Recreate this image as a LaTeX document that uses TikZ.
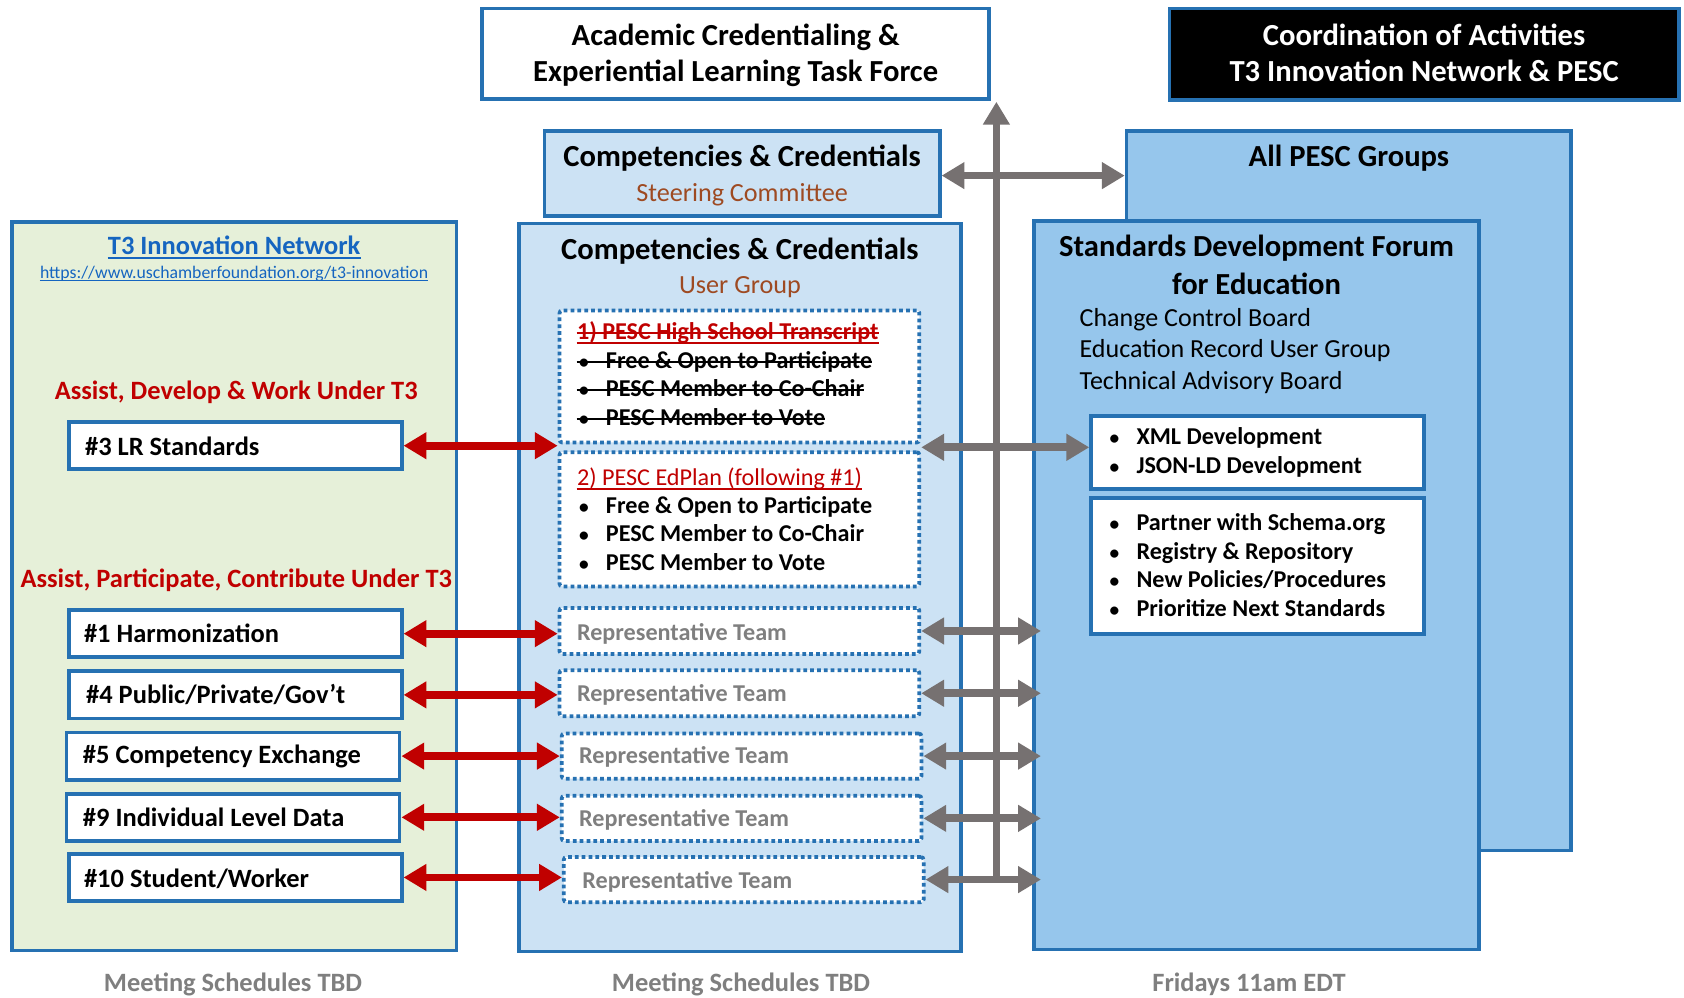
\documentclass[tikz,border=0pt]{standalone}
\usepackage{fontspec}
\setmainfont{Carlito}
\usetikzlibrary{arrows.meta,fit,calc}
\definecolor{bblue}{RGB}{38,113,178}
\definecolor{lblue}{RGB}{204,226,244}
\definecolor{mblue}{RGB}{150,198,236}
\definecolor{lgreen}{RGB}{230,240,217}
\definecolor{dred}{RGB}{192,0,0}
\definecolor{ubrown}{RGB}{158,74,34}
\definecolor{agray}{RGB}{118,113,113}
\definecolor{tgray}{RGB}{127,127,127}
\definecolor{lnk}{RGB}{21,101,192}
\newcommand\fH{\fontsize{22.8pt}{27pt}\selectfont}
\newcommand\fS{\fontsize{19.5pt}{23pt}\selectfont}
\newcommand\fI{\fontsize{19.7pt}{23pt}\selectfont}
\newcommand\fB{\fontsize{18pt}{21pt}\selectfont}
\newcommand\fL{\fontsize{19.4pt}{23pt}\selectfont}
\newcommand\fU{\fontsize{13.2pt}{16pt}\selectfont}
\tikzset{
  box/.style={draw=bblue, line width=2.8pt, inner sep=0pt, rectangle},
  dbox/.style={draw=bblue, fill=white, line width=2.8pt, dash pattern=on 2.8pt off 2.3pt, rounded corners=2pt, inner sep=0pt},
  txt/.style={inner sep=0pt, anchor=base},
  ltxt/.style={inner sep=0pt, anchor=base west},
  tipg/.tip={Triangle[length=17pt,width=19pt]},
  garr/.style={draw=agray, line width=5.8pt, tipg-tipg},
  gup/.style={draw=agray, line width=5.8pt, -tipg},
  rarr/.style={draw=dred, line width=5.8pt, tipg-tipg},
  strike/.style={line width=1.6pt}
}
\newcommand\bul[4]{\node[ltxt] (#1) at (#2,#3) {\fB\bfseries\makebox[20pt][l]{\scalebox{0.8}{\textbullet}}#4};}
\begin{document}
\begin{tikzpicture}[x=0.8pt,y=-0.8pt]
\fill[white] (0,0) rectangle (1568,929);
\useasboundingbox (0,0) rectangle (1568,929);

% ---------- big boxes ----------
\node[box, fill=white, fit={(449,8)(921,92)}] (acad) {};
\node[box, fill=black, fit={(1089,8)(1563,93)}] (coord) {};
\node[box, fill=lblue, fit={(507,122)(875,201)}] (steer) {};
\node[box, fill=mblue, fit={(1049,122)(1463,792)}] (allpesc) {};
\node[box, fill=mblue, fit={(963,206)(1377,884)}] (sdf) {};
\node[box, fill=lgreen, fit={(11,207)(425,885)}] (t3box) {};
\node[box, fill=lblue, fit={(483,208)(895,886)}] (ug) {};

% ---------- top texts ----------
\node[txt] (acadA) at (685,42) {\fH\bfseries Academic Credentialing \&};
\node[txt] (acadB) at (685,76) {\fH\bfseries Experiential Learning Task Force};
\node[txt, text=white] (coordA) at (1326,42) {\fH\bfseries Coordination of Activities};
\node[txt, text=white] (coordB) at (1326,76) {\fH\bfseries T3 Innovation Network \& PESC};
\node[txt] (steerA) at (691,155) {\fH\bfseries Competencies \& Credentials};
\node[txt, text=ubrown] (steerB) at (691,188) {\fS Steering Committee};
\node[txt] (allA) at (1256,155) {\fH\bfseries All PESC Groups};

% ---------- SDF ----------
\node[txt] (sdfA) at (1170,239) {\fH\bfseries Standards Development Forum};
\node[txt] (sdfB) at (1170,274) {\fH\bfseries for Education};
\node[ltxt] (sdf1) at (1005,304) {\fL Change Control Board};
\node[ltxt] (sdf2) at (1005,333) {\fL Education Record User Group};
\node[ltxt] (sdf3) at (1005,363) {\fL Technical Advisory Board};
\node[box, fill=white, fit={(1016,387)(1326,455)}] (xml) {};
\node[box, fill=white, fit={(1016,464)(1326,590)}] (part) {};
\bul{x1}{1033}{414}{XML Development}
\bul{x2}{1033}{441}{JSON-LD Development}
\bul{p1}{1033}{494}{Partner with Schema.org}
\bul{p2}{1033}{521}{Registry \& Repository}
\bul{p3}{1033}{547}{New Policies/Procedures}
\bul{p4}{1033}{574}{Prioritize Next Standards}

% ---------- T3 box ----------
\node[txt, text=lnk] (t3t) at (218,237) {\fI\bfseries T3 Innovation Network};
\draw[lnk, line width=1.4pt] ($(t3t.base west)+(0,3)$) -- ($(t3t.base east)+(0,3)$);
\node[txt, text=lnk] (url) at (218,259) {\fU https://www.uschamberfoundation.org/t3-innovation};
\draw[lnk, line width=0.9pt] ($(url.base west)+(0,2.5)$) -- ($(url.base east)+(0,2.5)$);
\node[txt, text=dred] (ass1) at (220,372) {\fI\bfseries Assist, Develop \& Work Under T3};
\node[txt, text=dred] (ass2) at (220,547) {\fI\bfseries Assist, Participate, Contribute Under T3};

\node[box, fill=white, fit={(64,393)(374,437)}] (lr3) {};
\node[box, fill=white, fit={(64,568)(374,612)}] (h1) {};
\node[box, fill=white, fit={(64,625)(374,669)}] (h4) {};
\node[box, fill=white, fit={(62,682)(372,726)}] (h5) {};
\node[box, fill=white, fit={(62,739)(372,783)}] (h9) {};
\node[box, fill=white, fit={(64,795)(374,839)}] (h10) {};
\node[ltxt] (lr3t) at (79,424) {\fI\bfseries \#3 LR Standards};
\node[ltxt] (h1t) at (78,598) {\fI\bfseries \#1 Harmonization};
\node[ltxt] (h4t) at (80,655) {\fI\bfseries \#4 Public/Private/Gov’t};
\node[ltxt] (h5t) at (77,711) {\fI\bfseries \#5 Competency Exchange};
\node[ltxt] (h9t) at (77,770) {\fI\bfseries \#9 Individual Level Data};
\node[ltxt] (h10t) at (78,826) {\fI\bfseries \#10 Student/Worker};

% ---------- User group ----------
\node[txt] (ugA) at (689,242) {\fH\bfseries Competencies \& Credentials};
\node[txt, text=ubrown] (ugB) at (689,273) {\fS User Group};
\node[dbox, fit={(521,289)(856,412)}] (ub1) {};
\node[dbox, fit={(521,421)(856,546)}] (ub2) {};
\node[ltxt, text=dred] (ub1t) at (537,316) {\fB\bfseries 1) PESC High School Transcript};
\draw[dred, strike] ($(ub1t.base west)+(0,-6)$) -- ($(ub1t.base east)+(0,-6)$);
\draw[dred, line width=1.3pt] ($(ub1t.base west)+(0,3.5)$) -- ($(ub1t.base east)+(0,3.5)$);
\bul{s1}{539}{343}{Free \& Open to Participate}
\bul{s2}{539}{369}{PESC Member to Co-Chair}
\bul{s3}{539}{396}{PESC Member to Vote}
\foreach \s in {s1,s2,s3}
  \draw[strike] ($(\s.base west)+(-2,-6)$) -- ($(\s.base east)+(0,-6)$);
\node[ltxt, text=dred] (ub2t) at (537,452) {\fB 2) PESC EdPlan (following \#1)};
\draw[dred, line width=1.2pt] ($(ub2t.base west)+(0,3.5)$) -- ($(ub2t.base east)+(0,3.5)$);
\bul{e1}{539}{478}{Free \& Open to Participate}
\bul{e2}{539}{504}{PESC Member to Co-Chair}
\bul{e3}{539}{531}{PESC Member to Vote}

\node[dbox, fit={(521,566)(856,609)}] (rep1) {};
\node[dbox, fit={(521,624)(856,667)}] (rep2) {};
\node[dbox, fit={(523,683)(858,725)}] (rep3) {};
\node[dbox, fit={(523,741)(858,783)}] (rep4) {};
\node[dbox, fit={(525,798)(860,840)}] (rep5) {};
\node[ltxt, text=tgray] (rep1t) at (537,596) {\fB\bfseries Representative Team};
\node[ltxt, text=tgray] (rep2t) at (537,653) {\fB\bfseries Representative Team};
\node[ltxt, text=tgray] (rep3t) at (539,711) {\fB\bfseries Representative Team};
\node[ltxt, text=tgray] (rep4t) at (539,770) {\fB\bfseries Representative Team};
\node[ltxt, text=tgray] (rep5t) at (542,827) {\fB\bfseries Representative Team};

% ---------- captions ----------
\node[txt, text=tgray] (cap1) at (217,923) {\fI\bfseries Meeting Schedules TBD};
\node[txt, text=tgray] (cap2) at (690,923) {\fI\bfseries Meeting Schedules TBD};
\node[txt, text=tgray] (cap3) at (1163,923) {\fI\bfseries Fridays 11am EDT};

% ---------- red arrows ----------
\draw[rarr] (lr3.east) -- (lr3.east -| ub1.west);
\draw[rarr] (h1.east) -- (h1.east -| rep1.west);
\draw[rarr] (h4.east) -- (h4.east -| rep2.west);
\draw[rarr] (h5.east) -- (h5.east -| rep3.west);
\draw[rarr] (h9.east) -- (h9.east -| rep4.west);
\draw[rarr] (h10.east) -- (h10.east -| rep5.west);

% ---------- gray arrows ----------
\coordinate (vtop) at ($(acad.south east)+(5,1)$);
\coordinate (vbot) at ($(vtop |- rep5.east)+(0,-3)$);
\draw[gup] (vbot) -- (vtop);
\draw[garr] ($(steer.east)+(0,2)$) -- ($(steer.east -| allpesc.west)+(0,2)$);
\coordinate (jr) at ($(ub1.south east)!0.5!(ub2.north east)$);
\draw[garr] (jr) -- (jr -| xml.west);
\foreach \r in {rep1,rep2,rep3,rep4,rep5}
  \draw[garr] (\r.east) -- ($(\r.east -| sdf.west)+(8,0)$);
\end{tikzpicture}
\end{document}
